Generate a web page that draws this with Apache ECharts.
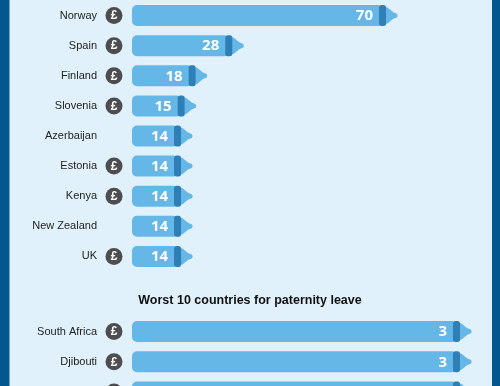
<!DOCTYPE html>
<html>
<head>
<meta charset="utf-8">
<style>
    html, body { margin: 0; padding: 0; background: #e1f1fb; }
    #chart { width: 500px; height: 386px; }
</style>
</head>
<body>
<div id="chart"></div>
<script src="https://cdn.jsdelivr.net/npm/echarts@6/dist/echarts.min.js"></script>
<script>
    var bestCountries = ['Norway', 'Spain', 'Finland', 'Slovenia', 'Azerbaijan', 'Estonia', 'Kenya', 'New Zealand', 'UK'];
    var bestValues = [70, 28, 18, 15, 14, 14, 14, 14, 14];
    var bestPaid = [true, true, true, true, false, true, true, false, true];

    // third row is cut off by the picture, its name can't be read
    var worstCountries = ['South Africa', 'Djibouti', ''];
    var worstValues = [3, 3, 3];
    var worstPaid = [true, true, true];

    var worstTitle = 'Worst 10 countries for paternity leave';

    var BAR = '#65b7e8', COLLAR = '#2f7fb7', ICON = '#4d4d4f', BAND = '#04568f';

    function bottle(paid, axisMin) {
        return function (params, api) {
            var value = api.value(0);
            var end = api.coord([value, api.value(1)]);
            var start = api.coord([axisMin, api.value(1)])[0];
            var x = end[0], y = end[1];
            var children = [
                // teat
                { type: 'polygon', shape: { points: [[x + 3, y - 8.5], [x + 5, y - 8], [x + 10.5, y - 3.5], [x + 12.5, y - 2.5], [x + 12.5, y + 2.5], [x + 10.5, y + 3.5], [x + 5, y + 8], [x + 3, y + 8.5]] }, style: { fill: BAR } },
                { type: 'circle', shape: { cx: x + 12.5, cy: y, r: 2.5 }, style: { fill: BAR } },
                // body
                { type: 'rect', shape: { x: start, y: y - 10.5, width: x - start - 2, height: 21, r: [5, 2, 2, 5] }, style: { fill: BAR } },
                // collar
                { type: 'rect', shape: { x: x - 3.5, y: y - 10.5, width: 7, height: 21, r: 2.5 }, style: { fill: COLLAR } },
                { type: 'text', style: { text: String(value), x: x - 9.5, y: y + 0.5, align: 'right', verticalAlign: 'middle', fill: '#ffffff', font: 'bold 15px "Open Sans"' } }
            ];
            if (paid[params.dataIndex]) {
                children.push({ type: 'circle', shape: { cx: start - 18, cy: y, r: 8.5 }, style: { fill: ICON } });
                children.push({ type: 'text', style: { text: '£', x: start - 18, y: y + 0.5, align: 'center', verticalAlign: 'middle', fill: '#ffffff', font: 'bold 12px "Liberation Sans"' } });
            }
            return { type: 'group', children: children };
        };
    }

    function rows(values) {
        return values.map(function (v, i) { return [v, i]; });
    }

    function categoryAxis(gridIndex, names) {
        return {
            type: 'category',
            gridIndex: gridIndex,
            inverse: true,
            data: names,
            axisLine: { show: false },
            axisTick: { show: false },
            axisLabel: { margin: 35, padding: [2, 0, 0, 0], color: '#222222', fontSize: 11, fontFamily: 'Liberation Sans', interval: 0 }
        };
    }

    var chart = echarts.init(document.getElementById('chart'));
    chart.setOption({
        animation: false,
        backgroundColor: '#e1f1fb',
        title: {
            text: worstTitle,
            left: 'center',
            top: 289,
            textStyle: { color: '#111111', fontSize: 12.5, fontWeight: 'bold', fontFamily: 'Liberation Sans' }
        },
        grid: [
            { left: 132, top: 0.5, width: 250.5, height: 271, outerBoundsMode: 'none' },
            { left: 132, top: 316.5, width: 324.5, height: 90.5, outerBoundsMode: 'none' }
        ],
        xAxis: [
            { type: 'value', gridIndex: 0, min: 1.56, max: 70, show: false },
            { type: 'value', gridIndex: 1, min: 0, max: 3, show: false }
        ],
        yAxis: [categoryAxis(0, bestCountries), categoryAxis(1, worstCountries)],
        series: [
            { type: 'custom', xAxisIndex: 0, yAxisIndex: 0, clip: false, encode: { x: 0, y: 1 }, data: rows(bestValues), renderItem: bottle(bestPaid, 1.56) },
            { type: 'custom', xAxisIndex: 1, yAxisIndex: 1, clip: false, encode: { x: 0, y: 1 }, data: rows(worstValues), renderItem: bottle(worstPaid, 0) }
        ],
        graphic: [
            { type: 'rect', left: 0, top: 0, shape: { width: 9.5, height: 386 }, style: { fill: BAND } },
            { type: 'rect', left: 492, top: 0, shape: { width: 8, height: 386 }, style: { fill: BAND } }
        ]
    });
</script>
</body>
</html>
